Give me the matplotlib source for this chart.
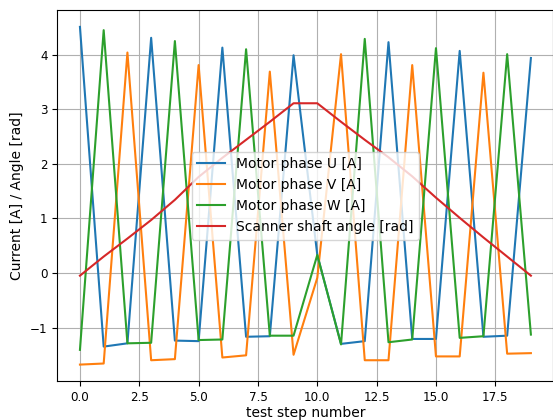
import matplotlib
matplotlib.use('Agg')
import matplotlib.pyplot as plt
import numpy as np

# test steps and measured values
steps = np.arange(20)
phase_u = [4.51, -1.35, -1.29, 4.31, -1.24, -1.25, 4.13, -1.17, -1.16, 3.99,
           0.33, -1.30, -1.25, 4.23, -1.21, -1.21, 4.07, -1.17, -1.15, 3.94]
phase_v = [-1.68, -1.66, 4.04, -1.60, -1.58, 3.81, -1.55, -1.51, 3.69, -1.50,
           -0.09, 4.01, -1.60, -1.60, 3.81, -1.53, -1.53, 3.67, -1.48, -1.47]
phase_w = [-1.41, 4.45, -1.29, -1.28, 4.25, -1.23, -1.22, 4.10, -1.15, -1.15,
           0.33, -1.31, 4.29, -1.27, -1.22, 4.12, -1.19, -1.16, 4.01, -1.13]
shaft_angle = [-0.05, 0.30, 0.63, 0.97, 1.34, 1.76, 2.11, 2.44, 2.77, 3.11,
               3.11, 2.77, 2.44, 2.12, 1.77, 1.38, 1.01, 0.65, 0.30, -0.05]

fig = plt.figure(figsize=(5.53, 4.2), dpi=100)
ax = fig.add_axes([0.1038, 0.0917, 0.897, 0.8845])

ax.plot(steps, phase_u, label='Motor phase U [A]')
ax.plot(steps, phase_v, label='Motor phase V [A]')
ax.plot(steps, phase_w, label='Motor phase W [A]')
ax.plot(steps, shaft_angle, label='Scanner shaft angle [rad]')

ax.set_xlabel('test step number', fontsize=10, labelpad=1.5)
ax.set_ylabel('Current [A] / Angle [rad]', fontsize=10)
ax.tick_params(labelsize=8.6)
ax.grid(True)
ax.legend(loc='center', fontsize=10)

fig.savefig('out.png', dpi=100)
